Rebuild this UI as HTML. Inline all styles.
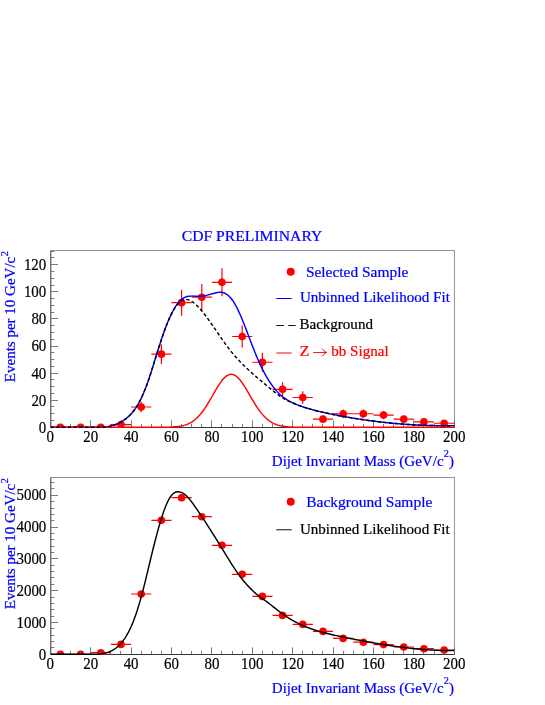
<!DOCTYPE html>
<html><head><meta charset="utf-8"><title>CDF Preliminary</title>
<style>
html,body{margin:0;padding:0;background:#fff;}
svg{display:block;will-change:transform;font-family:"Liberation Serif",serif;font-size:15.8px;}
.fr{fill:none;stroke:#585858;stroke-width:0.65;}
.ax{stroke:#383838;stroke-width:1.0;fill:none;}
.tk line{stroke:#5a5a5a;stroke-width:0.8;}
.dp line{stroke:#f00;stroke-width:1.2;}
.dp circle{fill:#f00;}
.blue{fill:#00f;}
.red{fill:#f00;}
</style></head><body>
<svg width="545" height="705" viewBox="0 0 545 705">
<defs>
<clipPath id="ct"><rect x="50.8" y="250.5" width="403.65" height="177.50"/></clipPath>
<clipPath id="cb"><rect x="50.8" y="477.5" width="403.65" height="177.50"/></clipPath>
</defs>
<rect width="545" height="705" fill="#fff"/>

<!-- ===== top plot ===== -->
<path class="fr" d="M50.8,250.5 H454.45 V428.0"/>
<path class="ax" d="M50.8,250.5 V427.50 H454.45"/>
<g class="dp" clip-path="url(#ct)">
<line x1="50.30" y1="427.30" x2="70.50" y2="427.30"/>
<circle cx="60.40" cy="427.30" r="3.8"/>
<line x1="70.50" y1="427.30" x2="90.69" y2="427.30"/>
<circle cx="80.60" cy="427.30" r="3.8"/>
<line x1="90.70" y1="427.30" x2="110.89" y2="427.30"/>
<circle cx="100.79" cy="427.30" r="3.8"/>
<line x1="110.89" y1="424.59" x2="131.09" y2="424.59"/>
<line x1="120.99" y1="422.67" x2="120.99" y2="426.51"/>
<circle cx="120.99" cy="424.59" r="3.8"/>
<line x1="131.09" y1="406.98" x2="151.29" y2="406.98"/>
<line x1="141.19" y1="401.73" x2="141.19" y2="412.22"/>
<circle cx="141.19" cy="406.98" r="3.8"/>
<line x1="151.29" y1="354.13" x2="171.49" y2="354.13"/>
<line x1="161.39" y1="344.17" x2="161.39" y2="364.09"/>
<circle cx="161.39" cy="354.13" r="3.8"/>
<line x1="171.49" y1="302.64" x2="191.68" y2="302.64"/>
<line x1="181.58" y1="289.64" x2="181.58" y2="315.64"/>
<circle cx="181.58" cy="302.64" r="3.8"/>
<line x1="191.68" y1="297.22" x2="211.88" y2="297.22"/>
<line x1="201.78" y1="283.94" x2="201.78" y2="310.50"/>
<circle cx="201.78" cy="297.22" r="3.8"/>
<line x1="211.88" y1="282.32" x2="232.08" y2="282.32"/>
<line x1="221.98" y1="268.30" x2="221.98" y2="296.33"/>
<circle cx="221.98" cy="282.32" r="3.8"/>
<line x1="232.08" y1="336.51" x2="252.28" y2="336.51"/>
<line x1="242.18" y1="325.42" x2="242.18" y2="347.61"/>
<circle cx="242.18" cy="336.51" r="3.8"/>
<line x1="252.28" y1="362.26" x2="272.47" y2="362.26"/>
<line x1="262.37" y1="352.87" x2="262.37" y2="371.65"/>
<circle cx="262.37" cy="362.26" r="3.8"/>
<line x1="272.47" y1="389.36" x2="292.67" y2="389.36"/>
<line x1="282.57" y1="382.19" x2="282.57" y2="396.53"/>
<circle cx="282.57" cy="389.36" r="3.8"/>
<line x1="292.67" y1="397.49" x2="312.87" y2="397.49"/>
<line x1="302.77" y1="391.13" x2="302.77" y2="403.85"/>
<circle cx="302.77" cy="397.49" r="3.8"/>
<line x1="312.87" y1="419.17" x2="333.07" y2="419.17"/>
<line x1="322.97" y1="415.85" x2="322.97" y2="422.49"/>
<circle cx="322.97" cy="419.17" r="3.8"/>
<line x1="333.07" y1="413.75" x2="353.26" y2="413.75"/>
<line x1="343.16" y1="409.47" x2="343.16" y2="418.03"/>
<circle cx="343.16" cy="413.75" r="3.8"/>
<line x1="353.26" y1="413.75" x2="373.46" y2="413.75"/>
<line x1="363.36" y1="409.47" x2="363.36" y2="418.03"/>
<circle cx="363.36" cy="413.75" r="3.8"/>
<line x1="373.46" y1="415.11" x2="393.66" y2="415.11"/>
<line x1="383.56" y1="411.04" x2="383.56" y2="419.17"/>
<circle cx="383.56" cy="415.11" r="3.8"/>
<line x1="393.66" y1="419.17" x2="413.86" y2="419.17"/>
<line x1="403.76" y1="415.85" x2="403.76" y2="422.49"/>
<circle cx="403.76" cy="419.17" r="3.8"/>
<line x1="413.86" y1="421.88" x2="434.05" y2="421.88"/>
<line x1="423.95" y1="419.17" x2="423.95" y2="424.59"/>
<circle cx="423.95" cy="421.88" r="3.8"/>
<line x1="434.05" y1="423.24" x2="454.25" y2="423.24"/>
<line x1="444.15" y1="420.89" x2="444.15" y2="425.58"/>
<circle cx="444.15" cy="423.24" r="3.8"/>
</g>
<g class="tk">
<line x1="50.50" y1="427.30" x2="50.50" y2="420.30"/>
<line x1="60.50" y1="427.30" x2="60.50" y2="423.90"/>
<line x1="70.50" y1="427.30" x2="70.50" y2="423.90"/>
<line x1="80.50" y1="427.30" x2="80.50" y2="423.90"/>
<line x1="90.50" y1="427.30" x2="90.50" y2="420.30"/>
<line x1="100.50" y1="427.30" x2="100.50" y2="423.90"/>
<line x1="110.50" y1="427.30" x2="110.50" y2="423.90"/>
<line x1="120.50" y1="427.30" x2="120.50" y2="423.90"/>
<line x1="131.50" y1="427.30" x2="131.50" y2="420.30"/>
<line x1="141.50" y1="427.30" x2="141.50" y2="423.90"/>
<line x1="151.50" y1="427.30" x2="151.50" y2="423.90"/>
<line x1="161.50" y1="427.30" x2="161.50" y2="423.90"/>
<line x1="171.50" y1="427.30" x2="171.50" y2="420.30"/>
<line x1="181.50" y1="427.30" x2="181.50" y2="423.90"/>
<line x1="191.50" y1="427.30" x2="191.50" y2="423.90"/>
<line x1="201.50" y1="427.30" x2="201.50" y2="423.90"/>
<line x1="211.50" y1="427.30" x2="211.50" y2="420.30"/>
<line x1="221.50" y1="427.30" x2="221.50" y2="423.90"/>
<line x1="232.50" y1="427.30" x2="232.50" y2="423.90"/>
<line x1="242.50" y1="427.30" x2="242.50" y2="423.90"/>
<line x1="252.50" y1="427.30" x2="252.50" y2="420.30"/>
<line x1="262.50" y1="427.30" x2="262.50" y2="423.90"/>
<line x1="272.50" y1="427.30" x2="272.50" y2="423.90"/>
<line x1="282.50" y1="427.30" x2="282.50" y2="423.90"/>
<line x1="292.50" y1="427.30" x2="292.50" y2="420.30"/>
<line x1="302.50" y1="427.30" x2="302.50" y2="423.90"/>
<line x1="312.50" y1="427.30" x2="312.50" y2="423.90"/>
<line x1="322.50" y1="427.30" x2="322.50" y2="423.90"/>
<line x1="333.50" y1="427.30" x2="333.50" y2="420.30"/>
<line x1="343.50" y1="427.30" x2="343.50" y2="423.90"/>
<line x1="353.50" y1="427.30" x2="353.50" y2="423.90"/>
<line x1="363.50" y1="427.30" x2="363.50" y2="423.90"/>
<line x1="373.50" y1="427.30" x2="373.50" y2="420.30"/>
<line x1="383.50" y1="427.30" x2="383.50" y2="423.90"/>
<line x1="393.50" y1="427.30" x2="393.50" y2="423.90"/>
<line x1="403.50" y1="427.30" x2="403.50" y2="423.90"/>
<line x1="413.50" y1="427.30" x2="413.50" y2="420.30"/>
<line x1="423.50" y1="427.30" x2="423.50" y2="423.90"/>
<line x1="434.50" y1="427.30" x2="434.50" y2="423.90"/>
<line x1="444.50" y1="427.30" x2="444.50" y2="423.90"/>
<line x1="454.50" y1="427.30" x2="454.50" y2="420.30"/>
<line x1="50.80" y1="427.50" x2="58.00" y2="427.50"/>
<line x1="50.80" y1="420.50" x2="54.40" y2="420.50"/>
<line x1="50.80" y1="413.50" x2="54.40" y2="413.50"/>
<line x1="50.80" y1="406.50" x2="54.40" y2="406.50"/>
<line x1="50.80" y1="400.50" x2="58.00" y2="400.50"/>
<line x1="50.80" y1="393.50" x2="54.40" y2="393.50"/>
<line x1="50.80" y1="386.50" x2="54.40" y2="386.50"/>
<line x1="50.80" y1="379.50" x2="54.40" y2="379.50"/>
<line x1="50.80" y1="373.50" x2="58.00" y2="373.50"/>
<line x1="50.80" y1="366.50" x2="54.40" y2="366.50"/>
<line x1="50.80" y1="359.50" x2="54.40" y2="359.50"/>
<line x1="50.80" y1="352.50" x2="54.40" y2="352.50"/>
<line x1="50.80" y1="346.50" x2="58.00" y2="346.50"/>
<line x1="50.80" y1="339.50" x2="54.40" y2="339.50"/>
<line x1="50.80" y1="332.50" x2="54.40" y2="332.50"/>
<line x1="50.80" y1="325.50" x2="54.40" y2="325.50"/>
<line x1="50.80" y1="318.50" x2="58.00" y2="318.50"/>
<line x1="50.80" y1="312.50" x2="54.40" y2="312.50"/>
<line x1="50.80" y1="305.50" x2="54.40" y2="305.50"/>
<line x1="50.80" y1="298.50" x2="54.40" y2="298.50"/>
<line x1="50.80" y1="291.50" x2="58.00" y2="291.50"/>
<line x1="50.80" y1="285.50" x2="54.40" y2="285.50"/>
<line x1="50.80" y1="278.50" x2="54.40" y2="278.50"/>
<line x1="50.80" y1="271.50" x2="54.40" y2="271.50"/>
<line x1="50.80" y1="264.50" x2="58.00" y2="264.50"/>
<line x1="50.80" y1="257.50" x2="54.40" y2="257.50"/>
<line x1="50.80" y1="251.50" x2="54.40" y2="251.50"/>
</g>
<g clip-path="url(#ct)" fill="none" stroke-width="1.45" stroke-linejoin="round">
<path d="M50.30,427.30 L51.30,427.30 L52.30,427.30 L53.30,427.30 L54.30,427.30 L55.30,427.30 L56.30,427.30 L57.30,427.30 L58.30,427.30 L59.30,427.30 L60.30,427.30 L61.30,427.30 L62.30,427.30 L63.30,427.30 L64.30,427.30 L65.30,427.30 L66.30,427.30 L67.30,427.30 L68.30,427.30 L69.30,427.30 L70.30,427.30 L71.30,427.30 L72.30,427.30 L73.30,427.30 L74.30,427.30 L75.30,427.30 L76.30,427.30 L77.30,427.30 L78.30,427.30 L79.30,427.30 L80.30,427.30 L81.30,427.30 L82.30,427.30 L83.30,427.30 L84.30,427.30 L85.30,427.30 L86.30,427.30 L87.30,427.30 L88.30,427.30 L89.30,427.30 L90.30,427.30 L91.30,427.30 L92.30,427.30 L93.30,427.30 L94.30,427.30 L95.30,427.30 L96.30,427.30 L97.30,427.30 L98.30,427.30 L99.30,427.30 L100.30,427.30 L101.30,427.30 L102.30,427.30 L103.30,427.30 L104.30,427.28 L105.30,427.14 L106.30,426.98 L107.30,426.80 L108.30,426.61 L109.30,426.39 L110.30,426.15 L111.30,425.89 L112.30,425.61 L113.30,425.30 L114.30,424.96 L115.30,424.59 L116.30,424.20 L117.30,423.77 L118.30,423.31 L119.30,422.82 L120.30,422.29 L121.30,421.73 L122.30,421.13 L123.30,420.49 L124.30,419.81 L125.30,419.09 L126.30,418.32 L127.30,417.50 L128.30,416.63 L129.30,415.70 L130.30,414.70 L131.30,413.64 L132.30,412.50 L133.30,411.28 L134.30,409.98 L135.30,408.59 L136.30,407.10 L137.30,405.51 L138.30,403.82 L139.30,402.03 L140.30,400.11 L141.30,398.09 L142.30,395.95 L143.30,393.69 L144.30,391.32 L145.30,388.84 L146.30,386.25 L147.30,383.55 L148.30,380.73 L149.30,377.80 L150.30,374.77 L151.30,371.64 L152.30,368.45 L153.30,365.22 L154.30,361.96 L155.30,358.71 L156.30,355.48 L157.30,352.26 L158.30,349.08 L159.30,345.94 L160.30,342.85 L161.30,339.81 L162.30,336.83 L163.30,333.92 L164.30,331.10 L165.30,328.35 L166.30,325.70 L167.30,323.15 L168.30,320.71 L169.30,318.39 L170.30,316.18 L171.30,314.09 L172.30,312.11 L173.30,310.25 L174.30,308.51 L175.30,306.89 L176.30,305.38 L177.30,303.99 L178.30,302.72 L179.30,301.56 L180.30,300.52 L181.30,299.60 L182.30,298.81 L183.30,298.15 L184.30,297.60 L185.30,297.15 L186.30,296.80 L187.30,296.54 L188.30,296.34 L189.30,296.21 L190.30,296.13 L191.30,296.10 L192.30,296.09 L193.30,296.11 L194.30,296.14 L195.30,296.18 L196.30,296.21 L197.30,296.22 L198.30,296.23 L199.30,296.21 L200.30,296.18 L201.30,296.12 L202.30,296.03 L203.30,295.91 L204.30,295.77 L205.30,295.59 L206.30,295.39 L207.30,295.16 L208.30,294.91 L209.30,294.64 L210.30,294.36 L211.30,294.06 L212.30,293.76 L213.30,293.47 L214.30,293.18 L215.30,292.92 L216.30,292.69 L217.30,292.50 L218.30,292.35 L219.30,292.26 L220.30,292.24 L221.30,292.30 L222.30,292.44 L223.30,292.68 L224.30,293.02 L225.30,293.47 L226.30,294.03 L227.30,294.71 L228.30,295.52 L229.30,296.45 L230.30,297.50 L231.30,298.69 L232.30,300.01 L233.30,301.46 L234.30,303.04 L235.30,304.74 L236.30,306.57 L237.30,308.51 L238.30,310.56 L239.30,312.71 L240.30,314.95 L241.30,317.28 L242.30,319.69 L243.30,322.16 L244.30,324.69 L245.30,327.26 L246.30,329.87 L247.30,332.49 L248.30,335.14 L249.30,337.78 L250.30,340.42 L251.30,343.04 L252.30,345.64 L253.30,348.20 L254.30,350.73 L255.30,353.21 L256.30,355.64 L257.30,358.01 L258.30,360.32 L259.30,362.56 L260.30,364.74 L261.30,366.86 L262.30,368.90 L263.30,370.87 L264.30,372.78 L265.30,374.62 L266.30,376.39 L267.30,378.09 L268.30,379.74 L269.30,381.31 L270.30,382.83 L271.30,384.28 L272.30,385.67 L273.30,387.00 L274.30,388.26 L275.30,389.47 L276.30,390.63 L277.30,391.73 L278.30,392.77 L279.30,393.76 L280.30,394.70 L281.30,395.58 L282.30,396.42 L283.30,397.21 L284.30,397.95 L285.30,398.65 L286.30,399.30 L287.30,399.93 L288.30,400.52 L289.30,401.08 L290.30,401.61 L291.30,402.12 L292.30,402.61 L293.30,403.08 L294.30,403.53 L295.30,403.97 L296.30,404.39 L297.30,404.80 L298.30,405.19 L299.30,405.57 L300.30,405.94 L301.30,406.30 L302.30,406.65 L303.30,406.99 L304.30,407.32 L305.30,407.64 L306.30,407.95 L307.30,408.25 L308.30,408.55 L309.30,408.84 L310.30,409.12 L311.30,409.40 L312.30,409.67 L313.30,409.93 L314.30,410.19 L315.30,410.45 L316.30,410.70 L317.30,410.94 L318.30,411.18 L319.30,411.42 L320.30,411.65 L321.30,411.89 L322.30,412.11 L323.30,412.34 L324.30,412.56 L325.30,412.79 L326.30,413.01 L327.30,413.22 L328.30,413.44 L329.30,413.65 L330.30,413.86 L331.30,414.07 L332.30,414.28 L333.30,414.48 L334.30,414.68 L335.30,414.89 L336.30,415.08 L337.30,415.28 L338.30,415.47 L339.30,415.67 L340.30,415.86 L341.30,416.05 L342.30,416.23 L343.30,416.42 L344.30,416.60 L345.30,416.78 L346.30,416.96 L347.30,417.13 L348.30,417.31 L349.30,417.48 L350.30,417.65 L351.30,417.82 L352.30,417.99 L353.30,418.15 L354.30,418.32 L355.30,418.48 L356.30,418.64 L357.30,418.80 L358.30,418.95 L359.30,419.11 L360.30,419.26 L361.30,419.41 L362.30,419.56 L363.30,419.70 L364.30,419.85 L365.30,419.99 L366.30,420.13 L367.30,420.27 L368.30,420.41 L369.30,420.55 L370.30,420.68 L371.30,420.82 L372.30,420.95 L373.30,421.08 L374.30,421.21 L375.30,421.33 L376.30,421.46 L377.30,421.58 L378.30,421.70 L379.30,421.82 L380.30,421.93 L381.30,422.05 L382.30,422.16 L383.30,422.27 L384.30,422.38 L385.30,422.49 L386.30,422.60 L387.30,422.70 L388.30,422.81 L389.30,422.91 L390.30,423.01 L391.30,423.10 L392.30,423.20 L393.30,423.29 L394.30,423.39 L395.30,423.48 L396.30,423.57 L397.30,423.65 L398.30,423.74 L399.30,423.82 L400.30,423.90 L401.30,423.98 L402.30,424.06 L403.30,424.13 L404.30,424.21 L405.30,424.28 L406.30,424.35 L407.30,424.42 L408.30,424.49 L409.30,424.55 L410.30,424.62 L411.30,424.68 L412.30,424.74 L413.30,424.80 L414.30,424.85 L415.30,424.91 L416.30,424.96 L417.30,425.01 L418.30,425.06 L419.30,425.11 L420.30,425.15 L421.30,425.19 L422.30,425.24 L423.30,425.28 L424.30,425.31 L425.30,425.35 L426.30,425.38 L427.30,425.42 L428.30,425.45 L429.30,425.48 L430.30,425.50 L431.30,425.53 L432.30,425.55 L433.30,425.57 L434.30,425.59 L435.30,425.61 L436.30,425.63 L437.30,425.64 L438.30,425.65 L439.30,425.66 L440.30,425.67 L441.30,425.68 L442.30,425.68 L443.30,425.69 L444.30,425.69 L445.30,425.69 L446.30,425.69 L447.30,425.68 L448.30,425.68 L449.30,425.67 L450.30,425.66 L451.30,425.65 L452.30,425.63 L453.30,425.62 L454.30,425.60" stroke="#0000ff"/>
<path d="M50.30,427.30 L51.31,427.30 L52.32,427.30 L53.33,427.30 L54.34,427.30 L55.35,427.30 L56.36,427.30 L57.37,427.30 L58.38,427.30 L59.39,427.30 L60.40,427.30 L61.41,427.30 L62.42,427.30 L63.43,427.30 L64.44,427.30 L65.45,427.30 L66.46,427.30 L67.47,427.30 L68.48,427.30 L69.49,427.30 L70.50,427.30 L71.51,427.30 L72.52,427.30 L73.53,427.30 L74.54,427.30 L75.55,427.30 L76.56,427.30 L77.57,427.30 L78.58,427.30 L79.59,427.30 L80.60,427.30 L81.61,427.30 L82.62,427.30 L83.63,427.30 L84.64,427.30 L85.65,427.30 L86.66,427.30 L87.67,427.30 L88.68,427.30 L89.69,427.30 L90.69,427.30 L91.70,427.30 L92.71,427.30 L93.72,427.30 L94.73,427.30 L95.74,427.30 L96.75,427.30 L97.76,427.30 L98.77,427.30 L99.78,427.30 L100.79,427.30 L101.80,427.30 L102.81,427.30 L103.82,427.30 L104.83,427.30 L105.84,427.30 L106.85,427.30 L107.86,427.30 L108.87,427.30 L109.88,427.30 L110.89,427.30 L111.90,427.30 L112.91,427.30 L113.92,427.30 L114.93,427.30 L115.94,427.30 L116.95,427.30 L117.96,427.30 L118.97,427.30 L119.98,427.30 L120.99,427.30 L122.00,427.30 L123.01,427.30 L124.02,427.30 L125.03,427.30 L126.04,427.30 L127.05,427.30 L128.06,427.30 L129.07,427.30 L130.08,427.30 L131.09,427.30 L132.10,427.30 L133.11,427.30 L134.12,427.30 L135.13,427.30 L136.14,427.30 L137.15,427.30 L138.16,427.30 L139.17,427.30 L140.18,427.30 L141.19,427.30 L142.20,427.30 L143.21,427.30 L144.22,427.30 L145.23,427.30 L146.24,427.30 L147.25,427.30 L148.26,427.30 L149.27,427.30 L150.28,427.30 L151.29,427.30 L152.30,427.29 L153.31,427.29 L154.32,427.29 L155.33,427.29 L156.34,427.29 L157.35,427.28 L158.36,427.28 L159.37,427.27 L160.38,427.27 L161.39,427.26 L162.40,427.25 L163.41,427.24 L164.42,427.23 L165.43,427.21 L166.44,427.19 L167.45,427.17 L168.46,427.14 L169.47,427.11 L170.48,427.07 L171.49,427.03 L172.49,426.98 L173.50,426.91 L174.51,426.84 L175.52,426.76 L176.53,426.66 L177.54,426.55 L178.55,426.42 L179.56,426.27 L180.57,426.10 L181.58,425.91 L182.59,425.69 L183.60,425.44 L184.61,425.16 L185.62,424.84 L186.63,424.49 L187.64,424.09 L188.65,423.65 L189.66,423.16 L190.67,422.62 L191.68,422.03 L192.69,421.38 L193.70,420.67 L194.71,419.89 L195.72,419.05 L196.73,418.14 L197.74,417.16 L198.75,416.12 L199.76,415.00 L200.77,413.80 L201.78,412.54 L202.79,411.21 L203.80,409.81 L204.81,408.35 L205.82,406.83 L206.83,405.25 L207.84,403.62 L208.85,401.95 L209.86,400.24 L210.87,398.51 L211.88,396.75 L212.89,394.99 L213.90,393.23 L214.91,391.47 L215.92,389.75 L216.93,388.05 L217.94,386.41 L218.95,384.82 L219.96,383.31 L220.97,381.88 L221.98,380.54 L222.99,379.32 L224.00,378.20 L225.01,377.21 L226.02,376.36 L227.03,375.65 L228.04,375.08 L229.05,374.67 L230.06,374.42 L231.07,374.32 L232.08,374.38 L233.09,374.60 L234.10,374.97 L235.11,375.50 L236.12,376.17 L237.13,376.97 L238.14,377.92 L239.15,378.98 L240.16,380.17 L241.17,381.46 L242.18,382.85 L243.19,384.32 L244.20,385.86 L245.21,387.47 L246.22,389.13 L247.23,390.83 L248.24,392.55 L249.25,394.29 L250.26,396.04 L251.27,397.78 L252.28,399.51 L253.28,401.21 L254.29,402.88 L255.30,404.51 L256.31,406.09 L257.32,407.63 L258.33,409.10 L259.34,410.52 L260.35,411.87 L261.36,413.15 L262.37,414.37 L263.38,415.51 L264.39,416.59 L265.40,417.59 L266.41,418.53 L267.42,419.40 L268.43,420.21 L269.44,420.95 L270.45,421.63 L271.46,422.25 L272.47,422.82 L273.48,423.34 L274.49,423.80 L275.50,424.22 L276.51,424.60 L277.52,424.94 L278.53,425.24 L279.54,425.51 L280.55,425.75 L281.56,425.96 L282.57,426.15 L283.58,426.31 L284.59,426.45 L285.60,426.57 L286.61,426.68 L287.62,426.78 L288.63,426.86 L289.64,426.93 L290.65,426.98 L291.66,427.04 L292.67,427.08 L293.68,427.12 L294.69,427.15 L295.70,427.17 L296.71,427.19 L297.72,427.21 L298.73,427.23 L299.74,427.24 L300.75,427.25 L301.76,427.26 L302.77,427.27 L303.78,427.27 L304.79,427.28 L305.80,427.28 L306.81,427.29 L307.82,427.29 L308.83,427.29 L309.84,427.29 L310.85,427.29 L311.86,427.30 L312.87,427.30 L313.88,427.30 L314.89,427.30 L315.90,427.30 L316.91,427.30 L317.92,427.30 L318.93,427.30 L319.94,427.30 L320.95,427.30 L321.96,427.30 L322.97,427.30 L323.98,427.30 L324.99,427.30 L326.00,427.30 L327.01,427.30 L328.02,427.30 L329.03,427.30 L330.04,427.30 L331.05,427.30 L332.06,427.30 L333.07,427.30 L334.07,427.30 L335.08,427.30 L336.09,427.30 L337.10,427.30 L338.11,427.30 L339.12,427.30 L340.13,427.30 L341.14,427.30 L342.15,427.30 L343.16,427.30 L344.17,427.30 L345.18,427.30 L346.19,427.30 L347.20,427.30 L348.21,427.30 L349.22,427.30 L350.23,427.30 L351.24,427.30 L352.25,427.30 L353.26,427.30 L354.27,427.30 L355.28,427.30 L356.29,427.30 L357.30,427.30 L358.31,427.30 L359.32,427.30 L360.33,427.30 L361.34,427.30 L362.35,427.30 L363.36,427.30 L364.37,427.30 L365.38,427.30 L366.39,427.30 L367.40,427.30 L368.41,427.30 L369.42,427.30 L370.43,427.30 L371.44,427.30 L372.45,427.30 L373.46,427.30 L374.47,427.30 L375.48,427.30 L376.49,427.30 L377.50,427.30 L378.51,427.30 L379.52,427.30 L380.53,427.30 L381.54,427.30 L382.55,427.30 L383.56,427.30 L384.57,427.30 L385.58,427.30 L386.59,427.30 L387.60,427.30 L388.61,427.30 L389.62,427.30 L390.63,427.30 L391.64,427.30 L392.65,427.30 L393.66,427.30 L394.67,427.30 L395.68,427.30 L396.69,427.30 L397.70,427.30 L398.71,427.30 L399.72,427.30 L400.73,427.30 L401.74,427.30 L402.75,427.30 L403.76,427.30 L404.77,427.30 L405.78,427.30 L406.79,427.30 L407.80,427.30 L408.81,427.30 L409.82,427.30 L410.83,427.30 L411.84,427.30 L412.85,427.30 L413.86,427.30 L414.86,427.30 L415.87,427.30 L416.88,427.30 L417.89,427.30 L418.90,427.30 L419.91,427.30 L420.92,427.30 L421.93,427.30 L422.94,427.30 L423.95,427.30 L424.96,427.30 L425.97,427.30 L426.98,427.30 L427.99,427.30 L429.00,427.30 L430.01,427.30 L431.02,427.30 L432.03,427.30 L433.04,427.30 L434.05,427.30 L435.06,427.30 L436.07,427.30 L437.08,427.30 L438.09,427.30 L439.10,427.30 L440.11,427.30 L441.12,427.30 L442.13,427.30 L443.14,427.30 L444.15,427.30 L445.16,427.30 L446.17,427.30 L447.18,427.30 L448.19,427.30 L449.20,427.30 L450.21,427.30 L451.22,427.30 L452.23,427.30 L453.24,427.30 L454.25,427.30" stroke="#ff0000"/>
<path d="M50.30,427.30 L51.30,427.30 L52.30,427.30 L53.30,427.30 L54.30,427.30 L55.30,427.30 L56.30,427.30 L57.30,427.30 L58.30,427.30 L59.30,427.30 L60.30,427.30 L61.30,427.30 L62.30,427.30 L63.30,427.30 L64.30,427.30 L65.30,427.30 L66.30,427.30 L67.30,427.30 L68.30,427.30 L69.30,427.30 L70.30,427.30 L71.30,427.30 L72.30,427.30 L73.30,427.30 L74.30,427.30 L75.30,427.30 L76.30,427.30 L77.30,427.30 L78.30,427.30 L79.30,427.30 L80.30,427.30 L81.30,427.30 L82.30,427.30 L83.30,427.30 L84.30,427.30 L85.30,427.30 L86.30,427.30 L87.30,427.30 L88.30,427.30 L89.30,427.30 L90.30,427.30 L91.30,427.30 L92.30,427.30 L93.30,427.30 L94.30,427.30 L95.30,427.30 L96.30,427.30 L97.30,427.30 L98.30,427.30 L99.30,427.30 L100.30,427.30 L101.30,427.30 L102.30,427.30 L103.30,427.30 L104.30,427.28 L105.30,427.14 L106.30,426.98 L107.30,426.80 L108.30,426.61 L109.30,426.39 L110.30,426.15 L111.30,425.89 L112.30,425.61 L113.30,425.30 L114.30,424.96 L115.30,424.59 L116.30,424.20 L117.30,423.77 L118.30,423.31 L119.30,422.82 L120.30,422.29 L121.30,421.73 L122.30,421.13 L123.30,420.49 L124.30,419.81 L125.30,419.09 L126.30,418.32 L127.30,417.50 L128.30,416.63 L129.30,415.70 L130.30,414.70 L131.30,413.64 L132.30,412.50 L133.30,411.28 L134.30,409.98 L135.30,408.59 L136.30,407.10 L137.30,405.51 L138.30,403.82 L139.30,402.03 L140.30,400.12 L141.30,398.09 L142.30,395.95 L143.30,393.69 L144.30,391.32 L145.30,388.84 L146.30,386.25 L147.30,383.55 L148.30,380.73 L149.30,377.81 L150.30,374.77 L151.30,371.65 L152.30,368.46 L153.30,365.22 L154.30,361.97 L155.30,358.72 L156.30,355.49 L157.30,352.28 L158.30,349.10 L159.30,345.97 L160.30,342.88 L161.30,339.85 L162.30,336.88 L163.30,333.98 L164.30,331.17 L165.30,328.44 L166.30,325.81 L167.30,323.28 L168.30,320.87 L169.30,318.57 L170.30,316.40 L171.30,314.35 L172.30,312.42 L173.30,310.63 L174.30,308.96 L175.30,307.41 L176.30,306.00 L177.30,304.72 L178.30,303.56 L179.30,302.55 L180.30,301.67 L181.30,300.93 L182.30,300.36 L183.30,299.93 L184.30,299.65 L185.30,299.51 L186.30,299.49 L187.30,299.61 L188.30,299.83 L189.30,300.17 L190.30,300.61 L191.30,301.14 L192.30,301.76 L193.30,302.46 L194.30,303.23 L195.30,304.07 L196.30,304.97 L197.30,305.92 L198.30,306.94 L199.30,308.00 L200.30,309.11 L201.30,310.26 L202.30,311.46 L203.30,312.69 L204.30,313.97 L205.30,315.27 L206.30,316.60 L207.30,317.96 L208.30,319.34 L209.30,320.75 L210.30,322.17 L211.30,323.60 L212.30,325.04 L213.30,326.50 L214.30,327.95 L215.30,329.42 L216.30,330.88 L217.30,332.35 L218.30,333.81 L219.30,335.27 L220.30,336.73 L221.30,338.17 L222.30,339.60 L223.30,341.02 L224.30,342.43 L225.30,343.82 L226.30,345.19 L227.30,346.53 L228.30,347.86 L229.30,349.15 L230.30,350.43 L231.30,351.67 L232.30,352.90 L233.30,354.10 L234.30,355.28 L235.30,356.43 L236.30,357.57 L237.30,358.68 L238.30,359.78 L239.30,360.85 L240.30,361.91 L241.30,362.95 L242.30,363.97 L243.30,364.97 L244.30,365.96 L245.30,366.94 L246.30,367.90 L247.30,368.84 L248.30,369.77 L249.30,370.69 L250.30,371.60 L251.30,372.50 L252.30,373.39 L253.30,374.27 L254.30,375.14 L255.30,376.01 L256.30,376.87 L257.30,377.72 L258.30,378.56 L259.30,379.41 L260.30,380.25 L261.30,381.08 L262.30,381.92 L263.30,382.75 L264.30,383.59 L265.30,384.42 L266.30,385.26 L267.30,386.09 L268.30,386.93 L269.30,387.77 L270.30,388.60 L271.30,389.42 L272.30,390.24 L273.30,391.05 L274.30,391.85 L275.30,392.63 L276.30,393.40 L277.30,394.16 L278.30,394.89 L279.30,395.61 L280.30,396.30 L281.30,396.98 L282.30,397.62 L283.30,398.24 L284.30,398.84 L285.30,399.41 L286.30,399.95 L287.30,400.48 L288.30,400.98 L289.30,401.47 L290.30,401.94 L291.30,402.40 L292.30,402.84 L293.30,403.27 L294.30,403.69 L295.30,404.10 L296.30,404.50 L297.30,404.89 L298.30,405.27 L299.30,405.63 L300.30,405.99 L301.30,406.34 L302.30,406.68 L303.30,407.02 L304.30,407.34 L305.30,407.66 L306.30,407.96 L307.30,408.27 L308.30,408.56 L309.30,408.85 L310.30,409.13 L311.30,409.40 L312.30,409.67 L313.30,409.94 L314.30,410.19 L315.30,410.45 L316.30,410.70 L317.30,410.94 L318.30,411.18 L319.30,411.42 L320.30,411.66 L321.30,411.89 L322.30,412.11 L323.30,412.34 L324.30,412.56 L325.30,412.79 L326.30,413.01 L327.30,413.22 L328.30,413.44 L329.30,413.65 L330.30,413.86 L331.30,414.07 L332.30,414.28 L333.30,414.48 L334.30,414.68 L335.30,414.89 L336.30,415.08 L337.30,415.28 L338.30,415.47 L339.30,415.67 L340.30,415.86 L341.30,416.05 L342.30,416.23 L343.30,416.42 L344.30,416.60 L345.30,416.78 L346.30,416.96 L347.30,417.13 L348.30,417.31 L349.30,417.48 L350.30,417.65 L351.30,417.82 L352.30,417.99 L353.30,418.15 L354.30,418.32 L355.30,418.48 L356.30,418.64 L357.30,418.80 L358.30,418.95 L359.30,419.11 L360.30,419.26 L361.30,419.41 L362.30,419.56 L363.30,419.70 L364.30,419.85 L365.30,419.99 L366.30,420.13 L367.30,420.27 L368.30,420.41 L369.30,420.55 L370.30,420.68 L371.30,420.82 L372.30,420.95 L373.30,421.08 L374.30,421.21 L375.30,421.33 L376.30,421.46 L377.30,421.58 L378.30,421.70 L379.30,421.82 L380.30,421.93 L381.30,422.05 L382.30,422.16 L383.30,422.27 L384.30,422.38 L385.30,422.49 L386.30,422.60 L387.30,422.70 L388.30,422.81 L389.30,422.91 L390.30,423.01 L391.30,423.10 L392.30,423.20 L393.30,423.29 L394.30,423.39 L395.30,423.48 L396.30,423.57 L397.30,423.65 L398.30,423.74 L399.30,423.82 L400.30,423.90 L401.30,423.98 L402.30,424.06 L403.30,424.13 L404.30,424.21 L405.30,424.28 L406.30,424.35 L407.30,424.42 L408.30,424.49 L409.30,424.55 L410.30,424.62 L411.30,424.68 L412.30,424.74 L413.30,424.80 L414.30,424.85 L415.30,424.91 L416.30,424.96 L417.30,425.01 L418.30,425.06 L419.30,425.11 L420.30,425.15 L421.30,425.19 L422.30,425.24 L423.30,425.28 L424.30,425.31 L425.30,425.35 L426.30,425.38 L427.30,425.42 L428.30,425.45 L429.30,425.48 L430.30,425.50 L431.30,425.53 L432.30,425.55 L433.30,425.57 L434.30,425.59 L435.30,425.61 L436.30,425.63 L437.30,425.64 L438.30,425.65 L439.30,425.66 L440.30,425.67 L441.30,425.68 L442.30,425.68 L443.30,425.69 L444.30,425.69 L445.30,425.69 L446.30,425.69 L447.30,425.68 L448.30,425.68 L449.30,425.67 L450.30,425.66 L451.30,425.65 L452.30,425.63 L453.30,425.62 L454.30,425.60" stroke="#000" stroke-dasharray="3.4,2.4"/>
</g>
<text id="title" fill="#00f" stroke="#00f" stroke-width="0.22" x="181.70" y="241.0" font-size="15.6" textLength="140.60" lengthAdjust="spacingAndGlyphs">CDF PRELIMINARY</text>
<text transform="translate(50.30,441.95) scale(0.94,1)" text-anchor="middle" font-size="15.9" stroke="#000" stroke-width="0.2">0</text>
<text transform="translate(90.69,441.95) scale(0.94,1)" text-anchor="middle" font-size="15.9" stroke="#000" stroke-width="0.2">20</text>
<text transform="translate(131.09,441.95) scale(0.94,1)" text-anchor="middle" font-size="15.9" stroke="#000" stroke-width="0.2">40</text>
<text transform="translate(171.49,441.95) scale(0.94,1)" text-anchor="middle" font-size="15.9" stroke="#000" stroke-width="0.2">60</text>
<text transform="translate(211.88,441.95) scale(0.94,1)" text-anchor="middle" font-size="15.9" stroke="#000" stroke-width="0.2">80</text>
<text transform="translate(252.28,441.95) scale(0.94,1)" text-anchor="middle" font-size="15.9" stroke="#000" stroke-width="0.2">100</text>
<text transform="translate(292.67,441.95) scale(0.94,1)" text-anchor="middle" font-size="15.9" stroke="#000" stroke-width="0.2">120</text>
<text transform="translate(333.07,441.95) scale(0.94,1)" text-anchor="middle" font-size="15.9" stroke="#000" stroke-width="0.2">140</text>
<text transform="translate(373.46,441.95) scale(0.94,1)" text-anchor="middle" font-size="15.9" stroke="#000" stroke-width="0.2">160</text>
<text transform="translate(413.86,441.95) scale(0.94,1)" text-anchor="middle" font-size="15.9" stroke="#000" stroke-width="0.2">180</text>
<text transform="translate(454.25,441.95) scale(0.94,1)" text-anchor="middle" font-size="15.9" stroke="#000" stroke-width="0.2">200</text>
<text transform="translate(46.3,433.00) scale(0.945,1)" text-anchor="end" stroke="#000" stroke-width="0.2">0</text>
<text transform="translate(46.3,405.79) scale(0.945,1)" text-anchor="end" stroke="#000" stroke-width="0.2">20</text>
<text transform="translate(46.3,378.58) scale(0.945,1)" text-anchor="end" stroke="#000" stroke-width="0.2">40</text>
<text transform="translate(46.3,351.37) scale(0.945,1)" text-anchor="end" stroke="#000" stroke-width="0.2">60</text>
<text transform="translate(46.3,324.17) scale(0.945,1)" text-anchor="end" stroke="#000" stroke-width="0.2">80</text>
<text transform="translate(46.3,296.96) scale(0.945,1)" text-anchor="end" stroke="#000" stroke-width="0.2">100</text>
<text transform="translate(46.3,269.75) scale(0.945,1)" text-anchor="end" stroke="#000" stroke-width="0.2">120</text>
<text id="xt1" fill="#00f" stroke="#00f" stroke-width="0.22" x="271.80" y="466.1" font-size="15.6" textLength="182.20" lengthAdjust="spacingAndGlyphs">Dijet Invariant Mass (GeV/c<tspan dy="-8.7" dx="0.3" font-size="10.6">2</tspan><tspan dy="8.7">)</tspan></text>
<text id="yt1" fill="#00f" stroke="#00f" stroke-width="0.22" font-size="14.9" transform="translate(15.1,382.2) rotate(-90)" textLength="131.1" lengthAdjust="spacingAndGlyphs">Events per 10 GeV/c<tspan dy="-7.6" dx="0.6" font-size="10.1">2</tspan></text>
<!-- legend -->
<circle cx="290.7" cy="271.8" r="4" fill="#f00"/>
<text id="l1" fill="#00f" stroke="#00f" stroke-width="0.22" x="305.90" y="277.3" font-size="14.9" textLength="102.40" lengthAdjust="spacingAndGlyphs">Selected Sample</text>
<line x1="276.3" y1="298.5" x2="291.7" y2="298.5" stroke="#00f" stroke-width="1"/>
<text id="l2" fill="#00f" stroke="#00f" stroke-width="0.22" x="299.90" y="302.45" font-size="14.9" textLength="150.00" lengthAdjust="spacingAndGlyphs">Unbinned Likelihood Fit</text>
<line x1="276.3" y1="325.5" x2="283.9" y2="325.5" stroke="#111" stroke-width="1"/>
<line x1="288.2" y1="325.5" x2="295.6" y2="325.5" stroke="#111" stroke-width="1"/>
<text id="l3" fill="#000" stroke="#000" stroke-width="0.22" x="299.50" y="329.3" font-size="14.9" textLength="73.40" lengthAdjust="spacingAndGlyphs">Background</text>
<line x1="276.3" y1="353.0" x2="291.7" y2="353.0" stroke="#f00" stroke-width="1"/>
<text id="l4a" fill="#f00" stroke="#f00" stroke-width="0.22" x="299.50" y="356.4" font-size="14.9" textLength="10.00" lengthAdjust="spacingAndGlyphs">Z</text>
<path d="M313.1,352.5 H326.3 M322.2,348.7 Q323.6,351.4 326.8,352.5 Q323.6,353.6 322.2,356.3" fill="none" stroke="#f00" stroke-width="0.9"/>
<text id="l4b" fill="#f00" stroke="#f00" stroke-width="0.22" x="331.30" y="356.4" font-size="14.9" textLength="57.30" lengthAdjust="spacingAndGlyphs">bb Signal</text>

<!-- ===== bottom plot ===== -->
<path class="fr" d="M50.8,477.5 H454.45 V655.0"/>
<path class="ax" d="M50.8,477.5 V654.50 H454.45"/>
<g class="dp" clip-path="url(#cb)">
<line x1="50.30" y1="654.30" x2="70.50" y2="654.30"/>
<circle cx="60.40" cy="654.30" r="3.8"/>
<line x1="70.50" y1="654.30" x2="90.69" y2="654.30"/>
<circle cx="80.60" cy="654.30" r="3.8"/>
<line x1="90.70" y1="652.70" x2="110.89" y2="652.70"/>
<circle cx="100.79" cy="652.70" r="3.8"/>
<line x1="110.89" y1="644.40" x2="131.09" y2="644.40"/>
<circle cx="120.99" cy="644.40" r="3.8"/>
<line x1="131.09" y1="594.00" x2="151.29" y2="594.00"/>
<circle cx="141.19" cy="594.00" r="3.8"/>
<line x1="151.29" y1="520.30" x2="171.49" y2="520.30"/>
<circle cx="161.39" cy="520.30" r="3.8"/>
<line x1="171.49" y1="497.70" x2="191.68" y2="497.70"/>
<circle cx="181.58" cy="497.70" r="3.8"/>
<line x1="191.68" y1="516.70" x2="211.88" y2="516.70"/>
<circle cx="201.78" cy="516.70" r="3.8"/>
<line x1="211.88" y1="545.30" x2="232.08" y2="545.30"/>
<circle cx="221.98" cy="545.30" r="3.8"/>
<line x1="232.08" y1="574.30" x2="252.28" y2="574.30"/>
<circle cx="242.18" cy="574.30" r="3.8"/>
<line x1="252.28" y1="596.40" x2="272.47" y2="596.40"/>
<circle cx="262.37" cy="596.40" r="3.8"/>
<line x1="272.47" y1="615.40" x2="292.67" y2="615.40"/>
<circle cx="282.57" cy="615.40" r="3.8"/>
<line x1="292.67" y1="624.40" x2="312.87" y2="624.40"/>
<circle cx="302.77" cy="624.40" r="3.8"/>
<line x1="312.87" y1="631.40" x2="333.07" y2="631.40"/>
<circle cx="322.97" cy="631.40" r="3.8"/>
<line x1="333.07" y1="638.40" x2="353.26" y2="638.40"/>
<circle cx="343.16" cy="638.40" r="3.8"/>
<line x1="353.26" y1="642.20" x2="373.46" y2="642.20"/>
<circle cx="363.36" cy="642.20" r="3.8"/>
<line x1="373.46" y1="644.60" x2="393.66" y2="644.60"/>
<circle cx="383.56" cy="644.60" r="3.8"/>
<line x1="393.66" y1="647.00" x2="413.86" y2="647.00"/>
<circle cx="403.76" cy="647.00" r="3.8"/>
<line x1="413.86" y1="648.70" x2="434.05" y2="648.70"/>
<circle cx="423.95" cy="648.70" r="3.8"/>
<line x1="434.05" y1="650.10" x2="454.25" y2="650.10"/>
<circle cx="444.15" cy="650.10" r="3.8"/>
</g>
<g class="tk">
<line x1="50.50" y1="654.30" x2="50.50" y2="647.30"/>
<line x1="60.50" y1="654.30" x2="60.50" y2="650.90"/>
<line x1="70.50" y1="654.30" x2="70.50" y2="650.90"/>
<line x1="80.50" y1="654.30" x2="80.50" y2="650.90"/>
<line x1="90.50" y1="654.30" x2="90.50" y2="647.30"/>
<line x1="100.50" y1="654.30" x2="100.50" y2="650.90"/>
<line x1="110.50" y1="654.30" x2="110.50" y2="650.90"/>
<line x1="120.50" y1="654.30" x2="120.50" y2="650.90"/>
<line x1="131.50" y1="654.30" x2="131.50" y2="647.30"/>
<line x1="141.50" y1="654.30" x2="141.50" y2="650.90"/>
<line x1="151.50" y1="654.30" x2="151.50" y2="650.90"/>
<line x1="161.50" y1="654.30" x2="161.50" y2="650.90"/>
<line x1="171.50" y1="654.30" x2="171.50" y2="647.30"/>
<line x1="181.50" y1="654.30" x2="181.50" y2="650.90"/>
<line x1="191.50" y1="654.30" x2="191.50" y2="650.90"/>
<line x1="201.50" y1="654.30" x2="201.50" y2="650.90"/>
<line x1="211.50" y1="654.30" x2="211.50" y2="647.30"/>
<line x1="221.50" y1="654.30" x2="221.50" y2="650.90"/>
<line x1="232.50" y1="654.30" x2="232.50" y2="650.90"/>
<line x1="242.50" y1="654.30" x2="242.50" y2="650.90"/>
<line x1="252.50" y1="654.30" x2="252.50" y2="647.30"/>
<line x1="262.50" y1="654.30" x2="262.50" y2="650.90"/>
<line x1="272.50" y1="654.30" x2="272.50" y2="650.90"/>
<line x1="282.50" y1="654.30" x2="282.50" y2="650.90"/>
<line x1="292.50" y1="654.30" x2="292.50" y2="647.30"/>
<line x1="302.50" y1="654.30" x2="302.50" y2="650.90"/>
<line x1="312.50" y1="654.30" x2="312.50" y2="650.90"/>
<line x1="322.50" y1="654.30" x2="322.50" y2="650.90"/>
<line x1="333.50" y1="654.30" x2="333.50" y2="647.30"/>
<line x1="343.50" y1="654.30" x2="343.50" y2="650.90"/>
<line x1="353.50" y1="654.30" x2="353.50" y2="650.90"/>
<line x1="363.50" y1="654.30" x2="363.50" y2="650.90"/>
<line x1="373.50" y1="654.30" x2="373.50" y2="647.30"/>
<line x1="383.50" y1="654.30" x2="383.50" y2="650.90"/>
<line x1="393.50" y1="654.30" x2="393.50" y2="650.90"/>
<line x1="403.50" y1="654.30" x2="403.50" y2="650.90"/>
<line x1="413.50" y1="654.30" x2="413.50" y2="647.30"/>
<line x1="423.50" y1="654.30" x2="423.50" y2="650.90"/>
<line x1="434.50" y1="654.30" x2="434.50" y2="650.90"/>
<line x1="444.50" y1="654.30" x2="444.50" y2="650.90"/>
<line x1="454.50" y1="654.30" x2="454.50" y2="647.30"/>
<line x1="50.80" y1="654.50" x2="58.00" y2="654.50"/>
<line x1="50.80" y1="647.50" x2="54.40" y2="647.50"/>
<line x1="50.80" y1="641.50" x2="54.40" y2="641.50"/>
<line x1="50.80" y1="635.50" x2="54.40" y2="635.50"/>
<line x1="50.80" y1="628.50" x2="54.40" y2="628.50"/>
<line x1="50.80" y1="622.50" x2="58.00" y2="622.50"/>
<line x1="50.80" y1="616.50" x2="54.40" y2="616.50"/>
<line x1="50.80" y1="609.50" x2="54.40" y2="609.50"/>
<line x1="50.80" y1="603.50" x2="54.40" y2="603.50"/>
<line x1="50.80" y1="597.50" x2="54.40" y2="597.50"/>
<line x1="50.80" y1="590.50" x2="58.00" y2="590.50"/>
<line x1="50.80" y1="584.50" x2="54.40" y2="584.50"/>
<line x1="50.80" y1="577.50" x2="54.40" y2="577.50"/>
<line x1="50.80" y1="571.50" x2="54.40" y2="571.50"/>
<line x1="50.80" y1="565.50" x2="54.40" y2="565.50"/>
<line x1="50.80" y1="558.50" x2="58.00" y2="558.50"/>
<line x1="50.80" y1="552.50" x2="54.40" y2="552.50"/>
<line x1="50.80" y1="546.50" x2="54.40" y2="546.50"/>
<line x1="50.80" y1="539.50" x2="54.40" y2="539.50"/>
<line x1="50.80" y1="533.50" x2="54.40" y2="533.50"/>
<line x1="50.80" y1="527.50" x2="58.00" y2="527.50"/>
<line x1="50.80" y1="520.50" x2="54.40" y2="520.50"/>
<line x1="50.80" y1="514.50" x2="54.40" y2="514.50"/>
<line x1="50.80" y1="508.50" x2="54.40" y2="508.50"/>
<line x1="50.80" y1="501.50" x2="54.40" y2="501.50"/>
<line x1="50.80" y1="495.50" x2="58.00" y2="495.50"/>
<line x1="50.80" y1="488.50" x2="54.40" y2="488.50"/>
<line x1="50.80" y1="482.50" x2="54.40" y2="482.50"/>
</g>
<g clip-path="url(#cb)" fill="none" stroke-width="1.45" stroke-linejoin="round">
<path d="M50.30,654.30 L51.30,654.30 L52.30,654.30 L53.30,654.30 L54.30,654.30 L55.30,654.30 L56.30,654.30 L57.30,654.30 L58.30,654.30 L59.30,654.30 L60.30,654.30 L61.30,654.30 L62.30,654.30 L63.30,654.30 L64.30,654.30 L65.30,654.30 L66.30,654.30 L67.30,654.30 L68.30,654.30 L69.30,654.30 L70.30,654.30 L71.30,654.30 L72.30,654.30 L73.30,654.30 L74.30,654.30 L75.30,654.30 L76.30,654.30 L77.30,654.30 L78.30,654.30 L79.30,654.30 L80.30,654.30 L81.30,654.30 L82.30,654.30 L83.30,654.30 L84.30,654.30 L85.30,654.30 L86.30,654.30 L87.30,654.30 L88.30,654.30 L89.30,654.30 L90.30,654.30 L91.30,654.30 L92.30,654.30 L93.30,654.30 L94.30,654.30 L95.30,654.30 L96.30,654.30 L97.30,654.30 L98.30,654.26 L99.30,654.13 L100.30,653.98 L101.30,653.81 L102.30,653.63 L103.30,653.43 L104.30,653.21 L105.30,652.98 L106.30,652.71 L107.30,652.41 L108.30,652.08 L109.30,651.72 L110.30,651.31 L111.30,650.86 L112.30,650.35 L113.30,649.80 L114.30,649.18 L115.30,648.51 L116.30,647.77 L117.30,646.96 L118.30,646.08 L119.30,645.12 L120.30,644.09 L121.30,642.97 L122.30,641.76 L123.30,640.45 L124.30,639.05 L125.30,637.55 L126.30,635.95 L127.30,634.23 L128.30,632.41 L129.30,630.46 L130.30,628.39 L131.30,626.20 L132.30,623.87 L133.30,621.41 L134.30,618.81 L135.30,616.07 L136.30,613.18 L137.30,610.14 L138.30,606.95 L139.30,603.63 L140.30,600.17 L141.30,596.59 L142.30,592.89 L143.30,589.07 L144.30,585.15 L145.30,581.13 L146.30,577.02 L147.30,572.85 L148.30,568.65 L149.30,564.46 L150.30,560.29 L151.30,556.16 L152.30,552.06 L153.30,548.02 L154.30,544.04 L155.30,540.13 L156.30,536.31 L157.30,532.58 L158.30,528.95 L159.30,525.43 L160.30,522.03 L161.30,518.77 L162.30,515.65 L163.30,512.68 L164.30,509.87 L165.30,507.23 L166.30,504.78 L167.30,502.52 L168.30,500.46 L169.30,498.61 L170.30,496.99 L171.30,495.60 L172.30,494.44 L173.30,493.52 L174.30,492.82 L175.30,492.31 L176.30,491.99 L177.30,491.82 L178.30,491.80 L179.30,491.91 L180.30,492.12 L181.30,492.44 L182.30,492.85 L183.30,493.38 L184.30,494.03 L185.30,494.80 L186.30,495.68 L187.30,496.67 L188.30,497.75 L189.30,498.91 L190.30,500.15 L191.30,501.45 L192.30,502.80 L193.30,504.19 L194.30,505.61 L195.30,507.05 L196.30,508.50 L197.30,509.95 L198.30,511.42 L199.30,512.90 L200.30,514.38 L201.30,515.88 L202.30,517.38 L203.30,518.89 L204.30,520.41 L205.30,521.94 L206.30,523.47 L207.30,525.02 L208.30,526.57 L209.30,528.12 L210.30,529.69 L211.30,531.26 L212.30,532.84 L213.30,534.42 L214.30,536.01 L215.30,537.61 L216.30,539.21 L217.30,540.82 L218.30,542.44 L219.30,544.06 L220.30,545.68 L221.30,547.31 L222.30,548.94 L223.30,550.58 L224.30,552.22 L225.30,553.86 L226.30,555.49 L227.30,557.12 L228.30,558.74 L229.30,560.35 L230.30,561.95 L231.30,563.53 L232.30,565.09 L233.30,566.63 L234.30,568.14 L235.30,569.64 L236.30,571.10 L237.30,572.53 L238.30,573.93 L239.30,575.30 L240.30,576.64 L241.30,577.95 L242.30,579.23 L243.30,580.48 L244.30,581.70 L245.30,582.89 L246.30,584.05 L247.30,585.17 L248.30,586.27 L249.30,587.34 L250.30,588.37 L251.30,589.38 L252.30,590.35 L253.30,591.29 L254.30,592.21 L255.30,593.09 L256.30,593.94 L257.30,594.76 L258.30,595.56 L259.30,596.33 L260.30,597.09 L261.30,597.83 L262.30,598.56 L263.30,599.29 L264.30,600.01 L265.30,600.73 L266.30,601.46 L267.30,602.20 L268.30,602.95 L269.30,603.71 L270.30,604.48 L271.30,605.25 L272.30,606.04 L273.30,606.82 L274.30,607.61 L275.30,608.40 L276.30,609.18 L277.30,609.97 L278.30,610.74 L279.30,611.51 L280.30,612.26 L281.30,613.01 L282.30,613.74 L283.30,614.46 L284.30,615.15 L285.30,615.84 L286.30,616.50 L287.30,617.16 L288.30,617.79 L289.30,618.41 L290.30,619.02 L291.30,619.61 L292.30,620.19 L293.30,620.76 L294.30,621.31 L295.30,621.84 L296.30,622.37 L297.30,622.88 L298.30,623.38 L299.30,623.87 L300.30,624.34 L301.30,624.80 L302.30,625.26 L303.30,625.70 L304.30,626.12 L305.30,626.54 L306.30,626.95 L307.30,627.35 L308.30,627.74 L309.30,628.12 L310.30,628.48 L311.30,628.84 L312.30,629.19 L313.30,629.54 L314.30,629.87 L315.30,630.20 L316.30,630.51 L317.30,630.82 L318.30,631.13 L319.30,631.42 L320.30,631.71 L321.30,631.99 L322.30,632.27 L323.30,632.54 L324.30,632.81 L325.30,633.06 L326.30,633.32 L327.30,633.57 L328.30,633.81 L329.30,634.05 L330.30,634.29 L331.30,634.52 L332.30,634.75 L333.30,634.97 L334.30,635.19 L335.30,635.41 L336.30,635.63 L337.30,635.84 L338.30,636.05 L339.30,636.26 L340.30,636.47 L341.30,636.67 L342.30,636.88 L343.30,637.08 L344.30,637.29 L345.30,637.49 L346.30,637.70 L347.30,637.90 L348.30,638.10 L349.30,638.30 L350.30,638.50 L351.30,638.70 L352.30,638.90 L353.30,639.10 L354.30,639.29 L355.30,639.49 L356.30,639.68 L357.30,639.88 L358.30,640.07 L359.30,640.27 L360.30,640.46 L361.30,640.65 L362.30,640.84 L363.30,641.03 L364.30,641.21 L365.30,641.40 L366.30,641.58 L367.30,641.77 L368.30,641.95 L369.30,642.13 L370.30,642.31 L371.30,642.49 L372.30,642.67 L373.30,642.85 L374.30,643.02 L375.30,643.20 L376.30,643.37 L377.30,643.54 L378.30,643.71 L379.30,643.88 L380.30,644.04 L381.30,644.21 L382.30,644.37 L383.30,644.54 L384.30,644.70 L385.30,644.86 L386.30,645.01 L387.30,645.17 L388.30,645.32 L389.30,645.47 L390.30,645.63 L391.30,645.77 L392.30,645.92 L393.30,646.07 L394.30,646.21 L395.30,646.35 L396.30,646.49 L397.30,646.63 L398.30,646.77 L399.30,646.90 L400.30,647.03 L401.30,647.16 L402.30,647.29 L403.30,647.42 L404.30,647.54 L405.30,647.66 L406.30,647.78 L407.30,647.90 L408.30,648.01 L409.30,648.13 L410.30,648.24 L411.30,648.35 L412.30,648.45 L413.30,648.56 L414.30,648.66 L415.30,648.76 L416.30,648.86 L417.30,648.95 L418.30,649.04 L419.30,649.13 L420.30,649.22 L421.30,649.31 L422.30,649.39 L423.30,649.47 L424.30,649.55 L425.30,649.62 L426.30,649.69 L427.30,649.76 L428.30,649.83 L429.30,649.89 L430.30,649.96 L431.30,650.01 L432.30,650.07 L433.30,650.12 L434.30,650.17 L435.30,650.22 L436.30,650.27 L437.30,650.31 L438.30,650.35 L439.30,650.38 L440.30,650.41 L441.30,650.44 L442.30,650.47 L443.30,650.50 L444.30,650.52 L445.30,650.53 L446.30,650.55 L447.30,650.56 L448.30,650.57 L449.30,650.57 L450.30,650.58 L451.30,650.57 L452.30,650.57 L453.30,650.56 L454.30,650.55" stroke="#000"/>
</g>
<text transform="translate(50.30,668.95) scale(0.94,1)" text-anchor="middle" font-size="15.9" stroke="#000" stroke-width="0.2">0</text>
<text transform="translate(90.69,668.95) scale(0.94,1)" text-anchor="middle" font-size="15.9" stroke="#000" stroke-width="0.2">20</text>
<text transform="translate(131.09,668.95) scale(0.94,1)" text-anchor="middle" font-size="15.9" stroke="#000" stroke-width="0.2">40</text>
<text transform="translate(171.49,668.95) scale(0.94,1)" text-anchor="middle" font-size="15.9" stroke="#000" stroke-width="0.2">60</text>
<text transform="translate(211.88,668.95) scale(0.94,1)" text-anchor="middle" font-size="15.9" stroke="#000" stroke-width="0.2">80</text>
<text transform="translate(252.28,668.95) scale(0.94,1)" text-anchor="middle" font-size="15.9" stroke="#000" stroke-width="0.2">100</text>
<text transform="translate(292.67,668.95) scale(0.94,1)" text-anchor="middle" font-size="15.9" stroke="#000" stroke-width="0.2">120</text>
<text transform="translate(333.07,668.95) scale(0.94,1)" text-anchor="middle" font-size="15.9" stroke="#000" stroke-width="0.2">140</text>
<text transform="translate(373.46,668.95) scale(0.94,1)" text-anchor="middle" font-size="15.9" stroke="#000" stroke-width="0.2">160</text>
<text transform="translate(413.86,668.95) scale(0.94,1)" text-anchor="middle" font-size="15.9" stroke="#000" stroke-width="0.2">180</text>
<text transform="translate(454.25,668.95) scale(0.94,1)" text-anchor="middle" font-size="15.9" stroke="#000" stroke-width="0.2">200</text>
<text transform="translate(46.3,660.00) scale(0.945,1)" text-anchor="end" stroke="#000" stroke-width="0.2">0</text>
<text transform="translate(46.3,628.07) scale(0.945,1)" text-anchor="end" stroke="#000" stroke-width="0.2">1000</text>
<text transform="translate(46.3,596.15) scale(0.945,1)" text-anchor="end" stroke="#000" stroke-width="0.2">2000</text>
<text transform="translate(46.3,564.22) scale(0.945,1)" text-anchor="end" stroke="#000" stroke-width="0.2">3000</text>
<text transform="translate(46.3,532.29) scale(0.945,1)" text-anchor="end" stroke="#000" stroke-width="0.2">4000</text>
<text transform="translate(46.3,500.36) scale(0.945,1)" text-anchor="end" stroke="#000" stroke-width="0.2">5000</text>
<text id="xt2" fill="#00f" stroke="#00f" stroke-width="0.22" x="271.80" y="693.1" font-size="15.6" textLength="182.20" lengthAdjust="spacingAndGlyphs">Dijet Invariant Mass (GeV/c<tspan dy="-8.7" dx="0.3" font-size="10.6">2</tspan><tspan dy="8.7">)</tspan></text>
<text id="yt2" fill="#00f" stroke="#00f" stroke-width="0.22" font-size="14.9" transform="translate(15.1,609.2) rotate(-90)" textLength="131.1" lengthAdjust="spacingAndGlyphs">Events per 10 GeV/c<tspan dy="-7.6" dx="0.6" font-size="10.1">2</tspan></text>
<circle cx="290.7" cy="501.8" r="4" fill="#f00"/>
<text id="bl1" fill="#00f" stroke="#00f" stroke-width="0.22" x="306.20" y="507.1" font-size="14.9" textLength="126.20" lengthAdjust="spacingAndGlyphs">Background Sample</text>
<line x1="276.3" y1="529.75" x2="291.7" y2="529.75" stroke="#111" stroke-width="1"/>
<text id="bl2" fill="#000" stroke="#000" stroke-width="0.22" x="299.90" y="533.7" font-size="14.9" textLength="149.80" lengthAdjust="spacingAndGlyphs">Unbinned Likelihood Fit</text>
</svg>
</body></html>
